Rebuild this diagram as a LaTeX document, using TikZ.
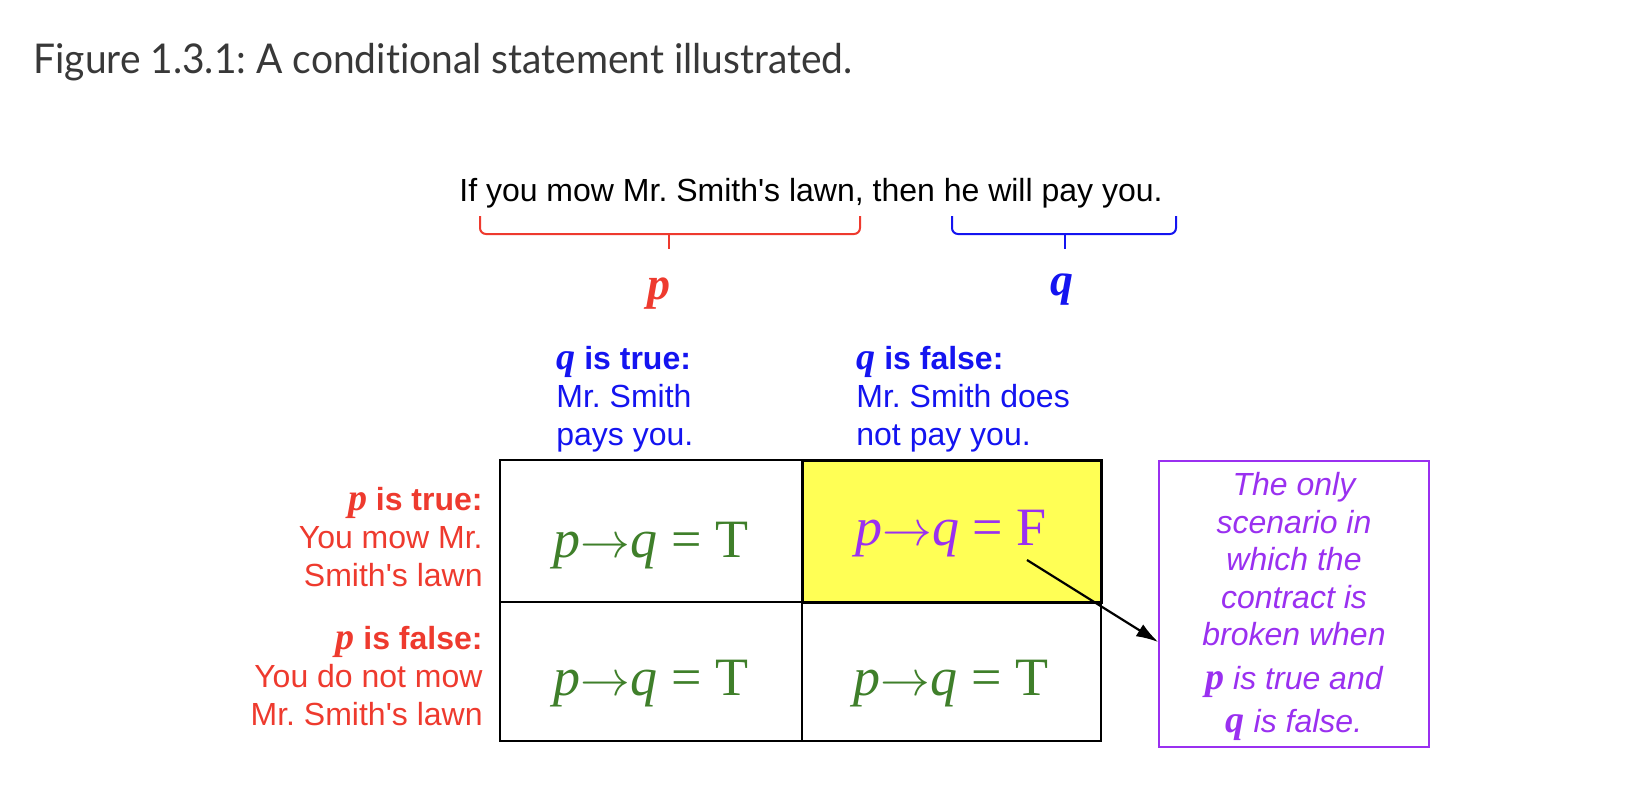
\documentclass[tikz,border=0pt]{standalone}
\usepackage{fontspec}
\setmainfont{Liberation Sans}[Ligatures=TeXOff]
\newfontfamily\serifmath{Liberation Serif}
\newfontfamily\captionfont{Lato}[Ligatures=NoCommon, FakeStretch=0.95]
\usepackage{xcolor}
\definecolor{condred}{HTML}{EE3A2E}
\definecolor{condblue}{HTML}{1414F0}
\definecolor{condgreen}{HTML}{3F7F2A}
\definecolor{condpurple}{HTML}{9A30F0}
\definecolor{condyellow}{HTML}{FFFF55}
\definecolor{condgray}{HTML}{383838}
\usepackage{tikz}
\usetikzlibrary{arrows.meta, positioning, calc}
\frenchspacing

\newcommand{\pvar}{{\serifmath\bfseries\itshape\fontsize{19}{19}\selectfont p}}
\newcommand{\qvar}{{\serifmath\bfseries\itshape\fontsize{19}{19}\selectfont q}}
\newcommand{\condimpl}[1]{{\serifmath\itshape p}$\rightarrow${\serifmath\itshape q}{\serifmath\ =\ #1}}

\tikzset{
  sanstext/.style={inner sep=0pt, font=\fontsize{16}{19}\selectfont},
  celltext/.style={anchor=base, inner sep=0pt, text=condgreen, font=\fontsize{27}{27}\selectfont},
  bracket/.style={line width=1pt, rounded corners=3pt}
}

\begin{document}
\begin{tikzpicture}[x=0.5pt, y=-0.5pt]
\useasboundingbox (0,0) rectangle (1640,800);

\node[anchor=base west, inner sep=0pt, text=condgray,
      font=\captionfont\fontsize{20.5}{24}\selectfont] (caption) at (33,73)
  {Figure 1.3.1: A conditional statement illustrated.};

\node[sanstext, anchor=base] (sentence) at (811,201)
  {If you mow Mr. Smith's lawn, then he will pay you.};

% braces under the two clauses
\draw[bracket, condred] (480,216) -- (480,234) -- (860,234) -- (860,216);
\draw[condred, line width=1pt] (669,234) -- (669,249) coordinate (ptip);
\draw[bracket, condblue] (952,216) -- (952,234) -- (1176,234) -- (1176,216);
\draw[condblue, line width=1pt] (1065,234) -- (1065,249) coordinate (qtip);

\node[anchor=base, inner sep=0pt, text=condred,
      font=\serifmath\bfseries\itshape\fontsize{23}{23}\selectfont] (plabel) at (659,299) {p};
\node[anchor=base, inner sep=0pt, text=condblue,
      font=\serifmath\bfseries\itshape\fontsize{23}{23}\selectfont] (qlabel) at (1062,295) {q};

% column headings
\node[sanstext, anchor=north west, align=left, text=condblue] (qtrue) at (556,346)
  {\qvar\ \textbf{is true:}\\Mr. Smith\\pays you.};
\node[sanstext, anchor=north west, align=left, text=condblue] (qfalse) at (856,346)
  {\qvar\ \textbf{is false:}\\Mr. Smith does\\not pay you.};

% row headings
\node[sanstext, anchor=north east, align=right, text=condred] (ptrue) at (483,487)
  {\pvar\ \textbf{is true:}\\You mow Mr.\\Smith's lawn};
\node[sanstext, anchor=north east, align=right, text=condred] (pfalse) at (483,626)
  {\pvar\ \textbf{is false:}\\You do not mow\\Mr. Smith's lawn};

% the table
\draw[line width=1pt] (500,460) rectangle (1101,741);
\draw[line width=1pt] (802,460) -- (802,741);
\draw[line width=1pt] (500,602) -- (1101,602);
\draw[line width=1.5pt, fill=condyellow] (802,460) rectangle (1101,602);

\node[celltext] (tt) at (651,557) {\condimpl{T}};
\node[celltext, text=condpurple] (tf) at (951,545) {\condimpl{F}};
\node[celltext] (ft) at (651,695) {\condimpl{T}};
\node[celltext] (ff) at (951,695) {\condimpl{T}};

% note box
\node[draw=condpurple, line width=0.8pt, text=condpurple, align=center,
      minimum width=135pt, minimum height=143pt, inner sep=0pt,
      font=\itshape\fontsize{16}{18.75}\selectfont] (note) at (1294,604)
  {\rule{0pt}{14.5pt}The only\\scenario in\\which the\\contract is\\broken when\\[3pt]\pvar\ is true and\\[3pt]\qvar\ is false.};

\coordinate (fpoint) at (1027,560);
\draw[line width=1.1pt, -{Latex[length=11pt,width=7pt]}] (fpoint) -- ($(note.west)+(0,38)$);
\end{tikzpicture}
\end{document}
